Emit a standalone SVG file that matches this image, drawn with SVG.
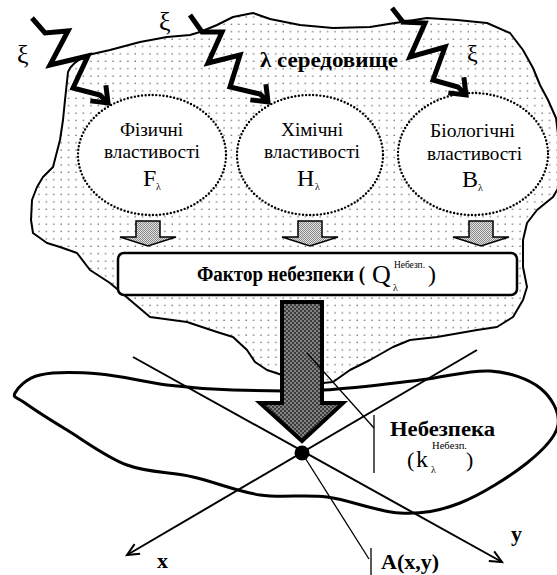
<svg xmlns="http://www.w3.org/2000/svg" width="557" height="575" viewBox="0 0 557 575">
<defs>
<pattern id="dots" width="7.4" height="7.4" patternUnits="userSpaceOnUse"><rect width="7.4" height="7.4" fill="#fff"/><circle cx="2" cy="2" r="0.7" fill="#444"/></pattern>
<pattern id="light" width="2" height="2" patternUnits="userSpaceOnUse"><rect width="2" height="2" fill="#e2e2e2"/><rect width="1" height="1" fill="#888"/><rect x="1" y="1" width="1" height="1" fill="#888"/></pattern>
<pattern id="dark" width="4" height="4" patternUnits="userSpaceOnUse"><rect width="4" height="4" fill="#3c3c3c"/><circle cx="1" cy="1" r="0.8" fill="#ddd"/><circle cx="3" cy="3" r="0.8" fill="#ddd"/></pattern>
<marker id="boltHead" markerUnits="userSpaceOnUse" markerWidth="26" markerHeight="26" refX="16" refY="11" orient="auto" overflow="visible"><path d="M2,0 L16,11 L2,22" fill="none" stroke="#000" stroke-width="5"/></marker>
<marker id="axHead" markerUnits="userSpaceOnUse" markerWidth="16" markerHeight="14" refX="13" refY="6" orient="auto" overflow="visible"><path d="M1,0.5 L13,6 L1,11.5" fill="none" stroke="#000" stroke-width="2"/></marker>
</defs>
<style>
.serif{font-family:"Liberation Serif","Times New Roman",serif;fill:#000}
.cyr{font-family:"Liberation Serif","DejaVu Serif",serif;fill:#000}
.b{font-weight:bold}
.oval{fill:#fff;stroke:#000;stroke-width:2.4;stroke-dasharray:0 3.6;stroke-linecap:round}
.bolt{fill:none;stroke:#000;stroke-width:5;stroke-linejoin:miter}
.axis{fill:none;stroke:#000;stroke-width:2}
.lead{fill:none;stroke:#000;stroke-width:1.3}
.small{fill:url(#light);stroke:#000;stroke-width:1.5}
</style>

<g id="environment">
<path d="M65,100 L68,72 Q72,62 88,55 L110,50 L140,42 L167,37 L190,35 L200,32 L217,25 L233,17 L253,13 L270,19 L300,25 L333,28 L370,27 L395,23 L427,18 L457,20 L487,23 L510,33 L523,50 L533,68 L540,85 L548,100 L556,118 L560,150 L560,185 L553,197 L537,210 L527,223 L523,240 L523,267 L527,287 L523,300 L513,317 L497,327 L477,330 L437,337 L410,340 L393,347 L370,360 L350,370 L333,382 L323,383 L282,375 L267,370 L255,362 L247,350 L233,337 L217,332 L187,322 L150,317 L130,300 L110,283 L90,270 L77,253 L60,247 L47,243 L33,233 L31,220 L32,200 L37,187 L43,177 L53,167 L60,140 L63,120 Z" fill="url(#dots)" stroke="#000" stroke-width="2" stroke-linejoin="round"/>
<text class="cyr b" x="260" y="67" font-size="21" textLength="138" lengthAdjust="spacingAndGlyphs">λ середовище</text>
</g>

<g id="hazard-zone">
<path d="M15,393 C17.5,388.3 25.8,378.2 40,375 C54.2,371.8 78.8,372.3 100,374 C121.2,375.7 144.8,382.3 167,385 C189.2,387.7 207,389.2 233,390 C259,390.8 291.8,391.7 323,390 C354.2,388.3 392.2,383.2 420,380 C447.8,376.8 470,369.7 490,371 C510,372.3 528.7,379 540,388 C551.3,397 560.2,412.5 558,425 C555.8,437.5 543.3,450 527,463 C510.7,476 481.2,494.7 460,503 C438.8,511.3 422.2,514 400,513 C377.8,512 350.3,500 327,497 C303.7,494 282.3,498.3 260,495 C237.7,491.7 215.2,482 193,477 C170.8,472 148,472.8 127,465 C106,457.2 84,440.3 67,430 C50,419.7 33.7,409.2 25,403 C16.3,396.8 12.5,397.7 15,393 Z" fill="none" stroke="#000" stroke-width="3"/>
</g>

<g id="physical">
<ellipse class="oval" cx="152" cy="155" rx="74" ry="60"/>
<text class="cyr" x="120" y="136" font-size="19" textLength="63" lengthAdjust="spacingAndGlyphs">Фізичні</text>
<text class="cyr" x="104" y="158" font-size="19" textLength="96" lengthAdjust="spacingAndGlyphs">властивості</text>
<text class="serif" x="143" y="186" font-size="24">F</text>
<text class="serif" x="156" y="190" font-size="10">λ</text>
</g>

<g id="chemical">
<ellipse class="oval" cx="310" cy="155" rx="73" ry="60"/>
<text class="cyr" x="281" y="136" font-size="19" textLength="62" lengthAdjust="spacingAndGlyphs">Хімічні</text>
<text class="cyr" x="264" y="158" font-size="19" textLength="96" lengthAdjust="spacingAndGlyphs">властивості</text>
<text class="serif" x="297" y="186" font-size="24">H</text>
<text class="serif" x="315" y="190" font-size="10">λ</text>
</g>

<g id="biological">
<ellipse class="oval" cx="473" cy="154" rx="75" ry="61"/>
<text class="cyr" x="430" y="137" font-size="19" textLength="85" lengthAdjust="spacingAndGlyphs">Біологічні</text>
<text class="cyr" x="427" y="160" font-size="19" textLength="95" lengthAdjust="spacingAndGlyphs">властивості</text>
<text class="serif" x="462" y="187" font-size="24">B</text>
<text class="serif" x="478" y="191" font-size="10">λ</text>
</g>

<g id="factor">
<rect x="118" y="253" width="399" height="42" rx="6" fill="#fff" stroke="#000" stroke-width="2.5"/>
<text class="cyr b" x="197" y="281" font-size="20" textLength="168" lengthAdjust="spacingAndGlyphs">Фактор небезпеки (</text>
<text class="serif" x="372" y="283" font-size="26">Q</text>
<text class="cyr" x="394" y="268" font-size="10" textLength="31" lengthAdjust="spacingAndGlyphs">Небезп.</text>
<text class="serif" x="393" y="291" font-size="10">λ</text>
<text class="serif" x="428" y="282" font-size="24">)</text>
</g>

<g id="connectors">
<polyline class="axis" points="477,350 127,555" marker-end="url(#axHead)"/>
<polyline class="axis" points="133,357 502,562" marker-end="url(#axHead)"/>
<polyline class="bolt" points="32,18 45,33 68,31 50,65 88,56 73,88 100,95 108,103" marker-end="url(#boltHead)"/>
<polyline class="bolt" points="190,15 202,32 222,32 208,63 240,55 230,87 260,94 268,102" marker-end="url(#boltHead)"/>
<polyline class="bolt" points="392,8 403,22 425,23 410,57 445,47 433,80 458,87 466,95" marker-end="url(#boltHead)"/>
<path class="small" d="M136,221 H160 V237 H176 L148,246 L120,237 H136 Z"/>
<path class="small" d="M298,221 H322 V237 H338 L310,246 L282,237 H298 Z"/>
<path class="small" d="M469,221 H493 V237 H509 L481,246 L453,237 H469 Z"/>
<path d="M282,302 H322 V403 H343 L302,441 L260,403 H282 Z" fill="url(#dark)" stroke="#000" stroke-width="4" stroke-linejoin="miter"/>
<polyline class="lead" points="307,353 374,428"/>
<line class="lead" x1="374" y1="415" x2="374" y2="473"/>
<polyline class="lead" points="302,453 369,559"/>
<line class="lead" x1="371" y1="548" x2="371" y2="575"/>
</g>

<g id="point-a">
<circle cx="302" cy="453" r="7.5" fill="#000"/>
</g>

<g id="labels">
<text class="serif" x="17" y="63" font-size="26">ξ</text>
<text class="serif" x="159" y="30" font-size="26">ξ</text>
<text class="serif" x="467" y="61" font-size="24">ξ</text>
<text class="cyr b" x="390" y="436" font-size="22" textLength="105" lengthAdjust="spacingAndGlyphs">Небезпека</text>
<text class="serif" x="407" y="467" font-size="22">(</text>
<text class="serif" x="416" y="467" font-size="24">k</text>
<text class="cyr" x="432" y="449" font-size="10" textLength="35" lengthAdjust="spacingAndGlyphs">Небезп.</text>
<text class="serif" x="431" y="473" font-size="10">λ</text>
<text class="serif" x="466" y="467" font-size="22">)</text>
<text class="serif b" x="157" y="568" font-size="22">x</text>
<text class="serif b" x="511" y="541" font-size="22">y</text>
<text class="serif b" x="381" y="569" font-size="22">A(x,y)</text>
</g>
</svg>
